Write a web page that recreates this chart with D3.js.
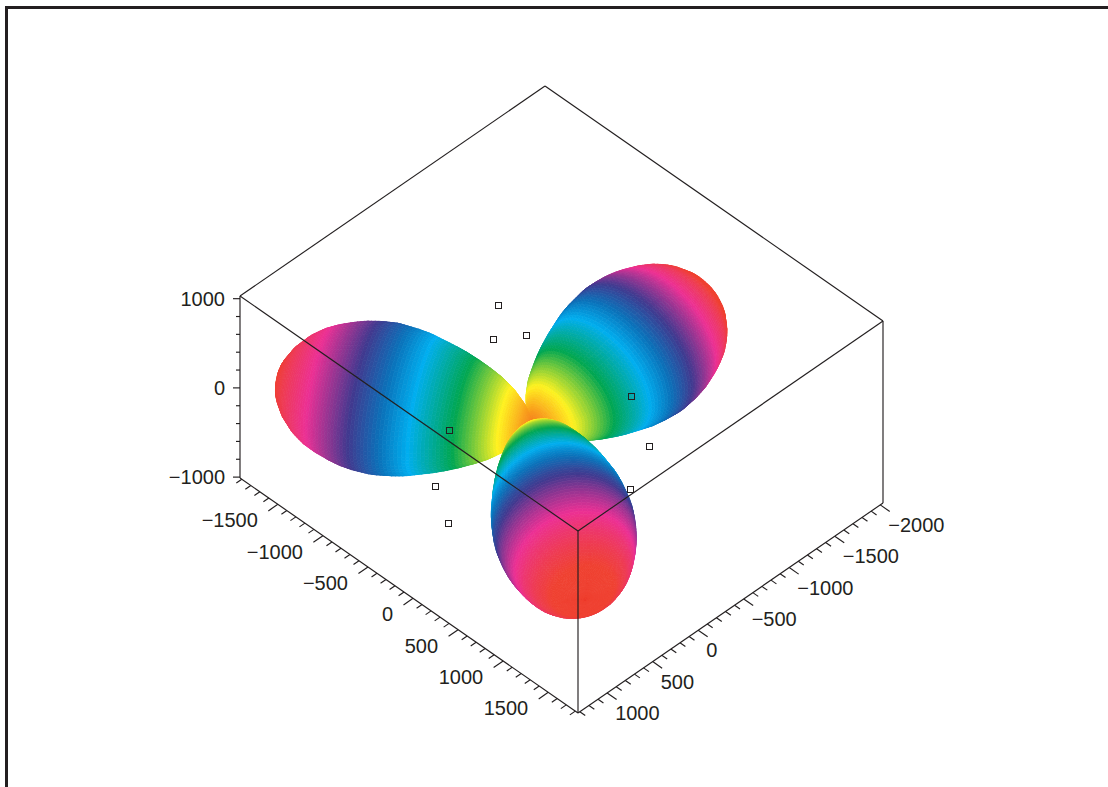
<!DOCTYPE html>
<html><head><meta charset="utf-8">
<script src="https://cdn.jsdelivr.net/npm/d3@7/dist/d3.min.js"></script>
<style>html,body{margin:0;padding:0;background:#fff;overflow:hidden}
text{font-family:"Liberation Sans",Arial,sans-serif;font-size:20px;fill:#231f20}</style>
</head><body><svg id="c" width="1108" height="787"></svg>
<script>
// ---- data ----
const uDomain=[-1920,1830], vDomain=[-2030,1320], zDomain=[-1010,1030];
const uTicks=[-1500,-1000,-500,0,500,1000,1500];
const vTicks=[-2000,-1500,-1000,-500,0,500,1000];
const zTicks=[-1000,0,1000];
const lobeOrigin=[0,0,0];
const lobeAzimuth=[149.5,-92.7,33];
const lobeLength=[2066,1997,2000];
const lobeHueReach=[2066,1850,1930];
const lobeWidthPlane=[610,620,555];
const lobeWidthZ=[610,600,630];
const stationS=[0,.02,.05,.1,.15,.2,.25,.3,.35,.4,.45,.5,.58,.65,.7,.75,.8,.85,.9,.95,.98,.99,.995,1];
const stationW=[0,.12,.26,.42,.54,.63,.71,.78,.84,.89,.94,.97,1,.985,.958,.91,.85,.77,.65,.47,.30,.22,.155,0];
const hueStops=[0,.07,.17,.34,.5,.6,.71,.86,1];
const hueColors=["#f47a25","#f9a11b","#fff21f","#00a651","#00aeef","#0a72ba","#41398f","#ec2f94","#ef4130"];
const pointU=[-1164,-920,-762,305,808,1046,-424,-55,317];
const pointV=[-766,-467,-674,-768,-473,-25,504,1028,1245];
const pointZ=[0,0,0,0,0,0,0,0,0];

// ---- projection built from linear scales ----
const frontX=578, frontY=713;
const uX=d3.scaleLinear().domain(uDomain).range([-338,0]);
const uY=d3.scaleLinear().domain(uDomain).range([-235,0]);
const vX=d3.scaleLinear().domain(vDomain).range([305,0]);
const vY=d3.scaleLinear().domain(vDomain).range([-210,0]);
const zY=d3.scaleLinear().domain(zDomain).range([0,-182]);
const P=(u,v,z)=>[frontX+uX(u)+vX(v), frontY+uY(u)+vY(v)+zY(z)];
const depth=(u,v,z)=>u+v+1.38*z;
const [u0,u1]=uDomain,[v0,v1]=vDomain,[z0,z1]=zDomain;
const svg=d3.select("#c");
const ink="#231f20";

// frame
svg.append("path").attr("d","M6.5,787V7.5H1108").attr("fill","none").attr("stroke",ink).attr("stroke-width",3);

// lobes
const widthAt=d3.scaleLinear().domain(stationS).range(stationW);
const hue=d3.scaleLinear().domain(hueStops).range(hueColors).clamp(true);
const rows=110, cols=84, quads=[];
lobeAzimuth.forEach((az,i)=>{
  const a=az*Math.PI/180, L=lobeLength[i], Wp=lobeWidthPlane[i], Wz=lobeWidthZ[i];
  const pt=(r,c)=>{
    const s=(1-Math.cos(Math.PI*r/rows))/2, psi=2*Math.PI*c/cols, w=widthAt(s);
    const t=L*s, p=Wp*w*Math.cos(psi), q=Wz*w*Math.sin(psi);
    return [t*Math.cos(a)-p*Math.sin(a), t*Math.sin(a)+p*Math.cos(a), q];
  };
  for(let r=0;r<rows;r++)for(let c=0;c<cols;c++){
    const g=[pt(r,c),pt(r+1,c),pt(r+1,c+1),pt(r,c+1)];
    const sc=g.map(d=>P(d[0]+lobeOrigin[0],d[1]+lobeOrigin[1],d[2]+lobeOrigin[2]));
    const area=d3.polygonArea(sc);
    const m=[0,1,2].map(k=>d3.mean(g,d=>d[k]));
    const rad=Math.hypot(m[0],m[1],m[2])/lobeHueReach[i];
    quads.push({sc,area,d:depth(...m),rad});
  }
});
const nearest=quads.reduce((a,b)=>b.d>a.d?b:a);
const front=Math.sign(nearest.area)||1;
const vis=quads.filter(d=>d.area*front>0).sort((a,b)=>a.d-b.d);
svg.append("g").selectAll("path").data(vis).join("path")
  .attr("d",d=>"M"+d.sc.map(p=>p[0].toFixed(1)+","+p[1].toFixed(1)).join("L")+"Z")
  .attr("fill",d=>hue(d.rad)).attr("stroke",d=>hue(d.rad)).attr("stroke-width",.7);

// box
const seg=(a,b,w=1.15)=>svg.append("line").attr("x1",a[0]).attr("y1",a[1]).attr("x2",b[0]).attr("y2",b[1]).attr("stroke",ink).attr("stroke-width",w);
const lid=[P(u0,v1,z1),P(u1,v1,z1),P(u1,v0,z1),P(u0,v0,z1)];
lid.forEach((p,i)=>seg(p,lid[(i+1)%4]));
seg(P(u0,v1,z0),P(u0,v1,z1));
seg(P(u1,v1,z0),P(u1,v1,z1));
seg(P(u1,v0,z0),P(u1,v0,z1));
seg(P(u0,v1,z0),P(u1,v1,z0));
seg(P(u1,v1,z0),P(u1,v0,z0));

// ticks
const MAJ=105, MIN=60;
d3.range(-1900,1830,100).forEach(t=>{const m=t%500===0;seg(P(t,v1,z0),P(t,v1+(m?MAJ:MIN),z0))});
d3.range(-2000,1320,100).forEach(t=>{const m=t%500===0;seg(P(u1,t,z0),P(u1+(m?MAJ:MIN),t,z0))});
d3.range(-1000,1030,200).forEach(t=>{const m=t%1000===0;const p=P(u0,v1,t);seg(p,[p[0]-(m?7:4),p[1]])});

// tick labels
const fmt=t=>String(t).replace("-","\u2212");
svg.append("g").selectAll("text").data(uTicks).join("text")
  .attr("x",t=>P(t,v1,z0)[0]-20).attr("y",t=>P(t,v1,z0)[1]+23).attr("text-anchor","end").text(fmt);
svg.append("g").selectAll("text").data(vTicks).join("text")
  .attr("x",t=>P(u1,t,z0)[0]+8).attr("y",t=>P(u1,t,z0)[1]+27).attr("text-anchor","start").text(fmt);
svg.append("g").selectAll("text").data(zTicks).join("text")
  .attr("x",t=>P(u0,v1,t)[0]-15).attr("y",t=>P(u0,v1,t)[1]+7).attr("text-anchor","end").text(fmt);

// points
svg.append("g").selectAll("rect").data(pointU.map((u,i)=>P(u,pointV[i],pointZ[i]))).join("rect")
  .attr("x",d=>Math.round(d[0])-3+.5).attr("y",d=>Math.round(d[1])-3+.5).attr("width",6).attr("height",6)
  .attr("fill","none").attr("stroke",ink).attr("stroke-width",1);
</script></body></html>
